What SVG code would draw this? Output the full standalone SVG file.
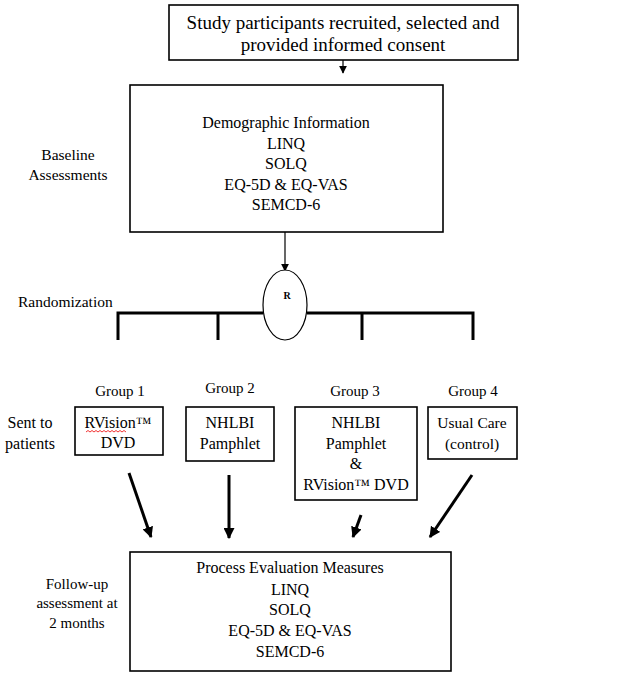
<svg xmlns="http://www.w3.org/2000/svg" width="629" height="678" viewBox="0 0 629 678">
<defs>
<style>
text{font-family:"Liberation Serif","Times New Roman",serif;fill:#000;text-anchor:middle}
.box{fill:#fff;stroke:#000;stroke-width:1.6}
.thin{stroke:#000;stroke-width:1.2;fill:none}
.thick{stroke:#000;stroke-width:3;fill:none}
.lbl{font-size:15.5px}
</style>
<marker id="ah" viewBox="0 0 10 10" refX="9" refY="5" markerWidth="8" markerHeight="8" markerUnits="userSpaceOnUse" orient="auto"><path d="M0,0L10,5L0,10z" fill="#000"/></marker>
<marker id="ahb" viewBox="0 0 10 10" refX="9" refY="5" markerWidth="11" markerHeight="11" markerUnits="userSpaceOnUse" orient="auto"><path d="M0,0L10,5L0,10z" fill="#000"/></marker>
</defs>
<rect width="629" height="678" fill="#fff"/>

<g id="connectors">
<line class="thin" x1="343" y1="60" x2="343" y2="73" marker-end="url(#ah)"/>
<line class="thin" x1="285" y1="232" x2="285" y2="271" marker-end="url(#ah)"/>
<path class="thick" d="M118,340V313H263M307,313H473V340M218,313V340M362,313V340"/>
<line class="thick" x1="129" y1="473" x2="151" y2="537" marker-end="url(#ahb)"/>
<line class="thick" x1="229" y1="475" x2="229" y2="538" marker-end="url(#ahb)"/>
<line class="thick" x1="361" y1="515" x2="353" y2="537" marker-end="url(#ahb)"/>
<line class="thick" x1="472" y1="475" x2="430" y2="537" marker-end="url(#ahb)"/>
</g>

<g id="recruit">
<rect class="box" x="169" y="5" width="349" height="55"/>
<text x="343" y="29" font-size="19">Study participants recruited, selected and</text>
<text x="343" y="51" font-size="19">provided informed consent</text>
</g>

<g id="baseline">
<rect class="box" x="130" y="85" width="313" height="147"/>
<text x="286" y="128" font-size="16">Demographic Information</text>
<text x="286" y="149" font-size="16">LINQ</text>
<text x="286" y="169" font-size="16">SOLQ</text>
<text x="286" y="190" font-size="16">EQ-5D &amp; EQ-VAS</text>
<text x="286" y="210" font-size="16">SEMCD-6</text>
</g>
<g id="baseline-label">
<text class="lbl" x="68" y="160">Baseline</text>
<text class="lbl" x="68" y="180">Assessments</text>
</g>

<g id="randomize">
<ellipse cx="285" cy="305" rx="22" ry="35" fill="#fff" stroke="#000" stroke-width="1.2"/>
<text x="287" y="299" font-size="10" font-weight="bold">R</text>
</g>
<g id="randomization-label">
<text class="lbl" x="18" y="307" style="text-anchor:start">Randomization</text>
</g>

<g id="group-labels">
<text x="120" y="396" font-size="15">Group 1</text>
<text x="230" y="393" font-size="15">Group 2</text>
<text x="355" y="396" font-size="15">Group 3</text>
<text x="473" y="396" font-size="15">Group 4</text>
</g>

<g id="sent-label">
<text x="30" y="428" font-size="16">Sent to</text>
<text x="30" y="449" font-size="16">patients</text>
</g>

<g id="group1">
<rect class="box" x="75" y="407" width="88" height="48"/>
<text x="118" y="428" font-size="16">RVision™</text>
<text x="118" y="448" font-size="16">DVD</text>
<path d="M86,432l2,-1.5l2,1.5l2,-1.5l2,1.5l2,-1.5l2,1.5l2,-1.5l2,1.5l2,-1.5l2,1.5l2,-1.5l2,1.5l2,-1.5l2,1.5l2,-1.5l2,1.5l2,-1.5l2,1.5l2,-1.5l2,1.5" fill="none" stroke="#e00" stroke-width="0.8"/>
</g>

<g id="group2">
<rect class="box" x="186" y="407" width="88" height="54"/>
<text x="230" y="428" font-size="16">NHLBI</text>
<text x="230" y="449" font-size="16">Pamphlet</text>
</g>

<g id="group3">
<rect class="box" x="295" y="407" width="122" height="93"/>
<text x="356" y="428" font-size="16">NHLBI</text>
<text x="356" y="449" font-size="16">Pamphlet</text>
<text x="356" y="469" font-size="16">&amp;</text>
<text x="356" y="490" font-size="16">RVision™ DVD</text>
</g>

<g id="group4">
<rect class="box" x="428" y="407" width="89" height="52"/>
<text x="472" y="428" font-size="15.5">Usual Care</text>
<text x="472" y="449" font-size="15.5">(control)</text>
</g>

<g id="followup">
<rect class="box" x="130" y="552" width="321" height="119"/>
<text x="290" y="573" font-size="16">Process Evaluation Measures</text>
<text x="290" y="595" font-size="16">LINQ</text>
<text x="290" y="615" font-size="16">SOLQ</text>
<text x="290" y="636" font-size="16">EQ-5D &amp; EQ-VAS</text>
<text x="290" y="657" font-size="16">SEMCD-6</text>
</g>
<g id="followup-label">
<text x="77" y="589" font-size="15">Follow-up</text>
<text x="77" y="608" font-size="15">assessment at</text>
<text x="77" y="628" font-size="15">2 months</text>
</g>
</svg>
